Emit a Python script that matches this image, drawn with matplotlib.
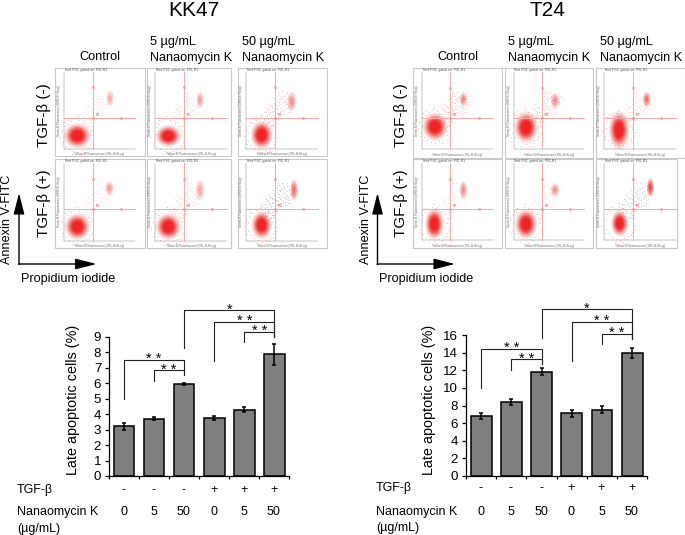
import matplotlib
matplotlib.use("Agg")
import matplotlib.pyplot as plt
from matplotlib.patches import Ellipse, Rectangle

plt.rcParams['font.family'] = ['Liberation Sans', 'DejaVu Sans']

W, H = 685, 535

# ---------- bar data ----------
tgf_signs = ['-', '-', '-', '+', '+', '+']
doses = ['0', '5', '50', '0', '5', '50']
kk47_values = [3.2, 3.7, 5.93, 3.75, 4.28, 7.85]
kk47_errors = [0.25, 0.08, 0.07, 0.13, 0.17, 0.70]
t24_values = [6.8, 8.4, 11.85, 7.1, 7.5, 13.95]
t24_errors = [0.3, 0.3, 0.4, 0.35, 0.4, 0.6]
kk47_ticks = list(range(0, 10))
t24_ticks = list(range(0, 17, 2))

# bracket: left bar, right bar, left end, top, right end, stars
kk47_brackets = [
    (0, 2, 4.97, 7.49, 6.50, '* *'),
    (1, 2, 6.16, 6.83, 6.50, '* *'),
    (2, 5, 8.25, 10.72, 9.00, '*'),
    (3, 5, 7.45, 9.97, 9.00, '* *'),
    (4, 5, 8.68, 9.32, 9.00, '* *'),
]
t24_brackets = [
    (0, 2, 10.02, 14.41, 12.7, '* *'),
    (1, 2, 12.03, 13.24, 12.7, '* *'),
    (2, 5, 15.70, 18.90, 15.6, '*'),
    (3, 5, 13.05, 17.47, 15.6, '* *'),
    (4, 5, 14.98, 16.11, 15.6, '* *'),
]

# ---------- flow panels (positions read in pixels x3) ----------
# box x0, x1, y0, y1, inner left, inner right, inner top, inner bottom, quad x, quad y
kk47_boxes = [
    [(166, 434, 204, 468, 192, 405, 215, 448, 278, 353),
     (442, 692, 204, 468, 465, 680, 215, 448, 551, 353),
     (715, 982, 204, 468, 738, 953, 215, 448, 824, 353)],
    [(166, 434, 476, 745, 192, 405, 488, 722, 278, 628),
     (442, 692, 476, 745, 465, 680, 488, 722, 551, 628),
     (715, 982, 476, 745, 738, 953, 488, 722, 824, 628)],
]
t24_boxes = [
    [(205, 472, 205, 473, 232, 443, 215, 448, 316, 355),
     (481, 745, 205, 473, 506, 718, 215, 448, 590, 355),
     (753, 1020, 205, 473, 778, 992, 215, 448, 863, 355)],
    [(205, 472, 478, 745, 232, 443, 488, 720, 316, 628),
     (481, 745, 478, 745, 506, 718, 488, 720, 590, 628),
     (753, 995, 478, 745, 778, 992, 488, 720, 863, 628)],
]
# main and late populations: cx, cy, rx, ry, strength
kk47_main = [[(232, 407, 34, 32), (505, 408, 32, 28), (785, 405, 28, 36)],
             [(232, 680, 32, 34), (505, 680, 32, 34), (785, 675, 26, 36)]]
kk47_late = [[(330, 295, 10, 22, .3), (600, 300, 10, 22, .35), (875, 305, 12, 25, .42)],
             [(328, 565, 12, 20, .35), (600, 570, 12, 28, .3), (882, 570, 10, 28, .6)]]
t24_main = [[(270, 380, 32, 36), (543, 382, 30, 40), (822, 390, 26, 48)],
            [(268, 672, 24, 40), (543, 672, 28, 38), (824, 670, 22, 34)]]
t24_late = [[(355, 298, 10, 18, .5), (630, 302, 12, 20, .45), (905, 298, 10, 20, .6)],
            [(355, 570, 10, 24, .45), (630, 570, 12, 18, .4), (916, 562, 9, 24, .9)]]
# density of the scattered events and their colour per panel
kk47_spread = [[(.13, 'r'), (.16, 'r'), (.28, 'r')], [(.13, 'r'), (.18, 'r'), (.38, 'k')]]
t24_spread = [[(.28, 'r'), (.25, 'r'), (.18, 'r')], [(.13, 'r'), (.13, 'r'), (.3, 'k')]]

# scattered events around the quadrant centre (read by eye, pixels x3)
speck_dx = [-40, -33, -28, -22, -18, -14, -10, -7, -3, 0, 4, 7, 11, 14, 18, 22, 26, 31, 36, 41,
            -36, -30, -25, -20, -15, -11, -6, -2, 3, 8, 12, 17, 21, 27, 33, 38, 44, 48, 53, 58,
            -26, -19, -13, -8, -4, 1, 6, 10, 15, 20, 25, 30, 35, 40, 46, -16, -9, -5, 2, 9]
speck_dy = [-8, -16, -5, -24, -12, -35, -6, -20, -44, -10, -28, -52, -15, -38, -9, -60, -24, -47,
            -70, -33, 14, 8, 20, 5, 12, 26, 9, 18, 4, -66, -72, -55, -80, -64, -41, -78, -58, -74,
            -50, -68, -30, -42, -18, -33, -58, -26, -14, -46, -30, -20, -38, -12, -30, -18, -44,
            32, 38, 24, 12, -78]
# events on the fringe of the main population, relative to its centre
fringe_dx = [-52, -47, -42, -38, -33, -30, -24, -18, -12, -6, 0, 6, 13, 19, 25, 31, 37, 42, 47, -45,
             -36, -27, -15, -3, 9, 22, 34, 44, -40, 39]
fringe_dy = [4, -14, 18, -28, 30, -36, 40, -44, 46, -52, 50, -47, 44, -38, 38, -30, 26, -16, 6, 28,
             -40, -48, 55, -60, 56, 48, 36, 18, -6, -4]

dot_red = '#ee2222'
line_red = '#f7a8a8'
main_layers = [(1.2, .10), (1.05, .16), (.92, .22), (.8, .32), (.68, .42), (.56, .62), (.45, .8)]
late_layers = [1.1, .9, .7, .5, .3]

fig = plt.figure(figsize=(W / 100, H / 100), dpi=100, facecolor='white')
ov = fig.add_axes([0, 0, 1, 1])
ov.set_xlim(0, W)
ov.set_ylim(H, 0)
ov.axis('off')


def flow(boxes, mains, lates, spreads, off):
    fx = lambda v: off + v / 3
    fy = lambda v: v / 3
    for r in range(2):
        for c in range(3):
            x0, x1, y0, y1, il, ir, it, ib, qx, qy = boxes[r][c]
            ov.add_patch(Rectangle((fx(x0), fy(y0)), (x1 - x0) / 3, (y1 - y0) / 3,
                                   fc='white', ec='#c8c8c8', lw=0.8))
            ov.plot([fx(il), fx(il)], [fy(it), fy(ib)], color='#888888', lw=0.35)
            ov.plot([fx(il), fx(ir)], [fy(ib), fy(ib)], color='#888888', lw=0.35)
            dens, col = spreads[r][c]
            color = dot_red if col == 'r' else '#7a4a4a'
            ov.plot([fx(qx + a) for a in speck_dx], [fy(qy + b) for b in speck_dy], 'o', ms=0.8,
                    mfc=color, mec='none', alpha=dens, ls='none')
            ov.plot([fx(qx + a + 6) for a in speck_dx], [fy(qy + b * .8 - 4) for b in speck_dy], 'o',
                    ms=0.8, mfc=color, mec='none', alpha=dens * .7, ls='none')
            cx, cy, rx, ry = mains[r][c]
            ov.plot([fx(cx + a) for a in fringe_dx], [fy(cy + b) for b in fringe_dy], 'o', ms=0.8,
                    mfc=dot_red, mec='none', alpha=.35, ls='none')
            for s, a in main_layers:
                ov.add_patch(Ellipse((fx(cx), fy(cy)), 2 * rx * s / 3, 2 * ry * s / 3,
                                     fc=dot_red, ec='none', alpha=a))
            cx, cy, rx, ry, st = lates[r][c]
            for s in late_layers:
                ov.add_patch(Ellipse((fx(cx), fy(cy)), 2 * rx * s / 3, 2 * ry * s / 3,
                                     fc=dot_red, ec='none', alpha=st * .3))
            ov.plot([fx(qx), fx(qx)], [fy(it), fy(ib)], color=line_red, lw=0.7)
            ov.plot([fx(il), fx(ir)], [fy(qy), fy(qy)], color=line_red, lw=0.7)
            qx2 = qx + 86
            qy2 = qy - 92
            ov.plot([fx(qx), fx(qx), fx(qx2)], [fy(qy2), fy(qy), fy(qy)], 'o', ms=1.6,
                    mfc='none', mec='#f08080', mew=0.4, ls='none')
            ov.text(fx(qx + 8), fy(qy - 9), 'R2', fontsize=2.4, color='#ee5555', va='center')
            ov.text(fx(il + 2), fy(y0 + 6), 'Red PS2, gated on: P01.R1', fontsize=2.4,
                    color='#555555', va='center')
            ov.text(fx((il + ir) / 2), fy(y1 - 7), 'Yellow-B Fluorescence (YEL-B-HLog)',
                    fontsize=2.2, color='#666666', ha='center', va='center')
            ov.text(fx(il - 15), fy((it + ib) / 2), 'Green-B Fluorescence (GRN-B-HLog)',
                    fontsize=2.2, color='#666666', ha='center', va='center', rotation=90)


flow(kk47_boxes, kk47_main, kk47_late, kk47_spread, 0)
flow(t24_boxes, t24_main, t24_late, t24_spread, 345)

# ---------- headers ----------
FS = 9.1
ov.text(194, 16, 'KK47', fontsize=15, ha='center', va='baseline')
ov.text(547, 16, 'T24', fontsize=15, ha='center', va='baseline')
for cx, l2, l3, xrow, xann, oxa, xpi in [(100, 150, 242, 44, 7, 19, 21),
                                         (458, 508, 600, 401, 366, 377.5, 379)]:
    ov.text(cx, 57.5, 'Control', fontsize=FS, ha='center', va='center')
    ov.text(l2, 42.5, '5 µg/mL', fontsize=FS, va='center')
    ov.text(l2, 57.5, 'Nanaomycin K', fontsize=FS, va='center')
    ov.text(l3, 42.5, '50 µg/mL', fontsize=FS, va='center')
    ov.text(l3, 57.5, 'Nanaomycin K', fontsize=FS, va='center')
    ov.text(xrow, 115, 'TGF-β (-)', fontsize=11, rotation=90, ha='center', va='center')
    ov.text(xrow, 203, 'TGF-β (+)', fontsize=11, rotation=90, ha='center', va='center')
    ov.text(xann, 219, 'Annexin V-FITC', fontsize=FS, rotation=90, ha='center', va='center')
    ov.text(xpi, 279, 'Propidium iodide', fontsize=FS, va='center')
    arrow = dict(arrowstyle='-|>,head_width=0.33,head_length=1.3', color='black',
                 lw=1.0, shrinkA=0, shrinkB=0, mutation_scale=10)
    ov.annotate('', xy=(oxa, 193), xytext=(oxa, 264.5), arrowprops=arrow)
    ov.annotate('', xy=(oxa + 77.5, 264), xytext=(oxa - 0.5, 264), arrowprops=arrow)


def bars(rect, vals, errs, ticks, brackets, ylab_x, label_left, y_tgf, y_dose, y_unit):
    left, right, top, bottom = rect
    ax = fig.add_axes([left / W, 1 - bottom / H, (right - left) / W, (bottom - top) / H])
    ax.patch.set_alpha(0)
    xs = list(range(len(vals)))
    ax.bar(xs, vals, width=0.69, color='#7f7f7f', edgecolor='black', lw=1.1)
    ax.errorbar(xs, vals, yerr=errs, fmt='none', ecolor='black', elinewidth=1.1,
                capsize=1.7, capthick=1.1)
    ax.set_xlim(-0.5, 5.5)
    ax.set_ylim(ticks[0], ticks[-1])
    ax.set_yticks(ticks)
    ax.set_xticks([i - 0.5 for i in range(7)])
    ax.set_xticklabels([])
    ax.tick_params(axis='y', length=2.6, width=0.9, labelsize=9.6, pad=3)
    ax.tick_params(axis='x', length=2, width=0.9)
    for s in ('top', 'right'):
        ax.spines[s].set_visible(False)
    for s in ('left', 'bottom'):
        ax.spines[s].set_linewidth(0.9)
    ax.set_ylabel('Late apoptotic cells (%)', fontsize=10.4)
    ax.yaxis.set_label_coords((ylab_x - left) / (right - left), (bottom - 399.7) / (bottom - top))
    for i, j, yl, yt, yr, stars in brackets:
        ax.plot([i, i, j, j], [yl, yt, yt, yr], color='#222222', lw=0.8, clip_on=False)
        ax.annotate(stars, ((i + j) / 2, yt), xytext=(0, -4.5), textcoords='offset points',
                    ha='center', va='bottom', fontsize=10.5, annotation_clip=False)
    for x, sign, d in zip(xs, tgf_signs, doses):
        px = left + (x + 0.5) * (right - left) / 6
        ov.text(px - 0.5, y_tgf, sign, fontsize=9, ha='center', va='center')
        ov.text(px - 0.5, y_dose, d, fontsize=9, ha='center', va='center')
    ov.text(label_left, y_tgf, 'TGF-β', fontsize=9, va='center')
    ov.text(label_left, y_dose, 'Nanaomycin K', fontsize=9, va='center')
    ov.text(label_left, y_unit, '(µg/mL)', fontsize=9, va='center')


bars((109, 289.3, 336.7, 476), kk47_values, kk47_errors, kk47_ticks, kk47_brackets,
     80, 17, 490, 512, 529)
bars((466, 647.3, 335, 476), t24_values, t24_errors, t24_ticks, t24_brackets,
     436, 376, 488.5, 512, 528)

fig.savefig('out.png', dpi=100)
